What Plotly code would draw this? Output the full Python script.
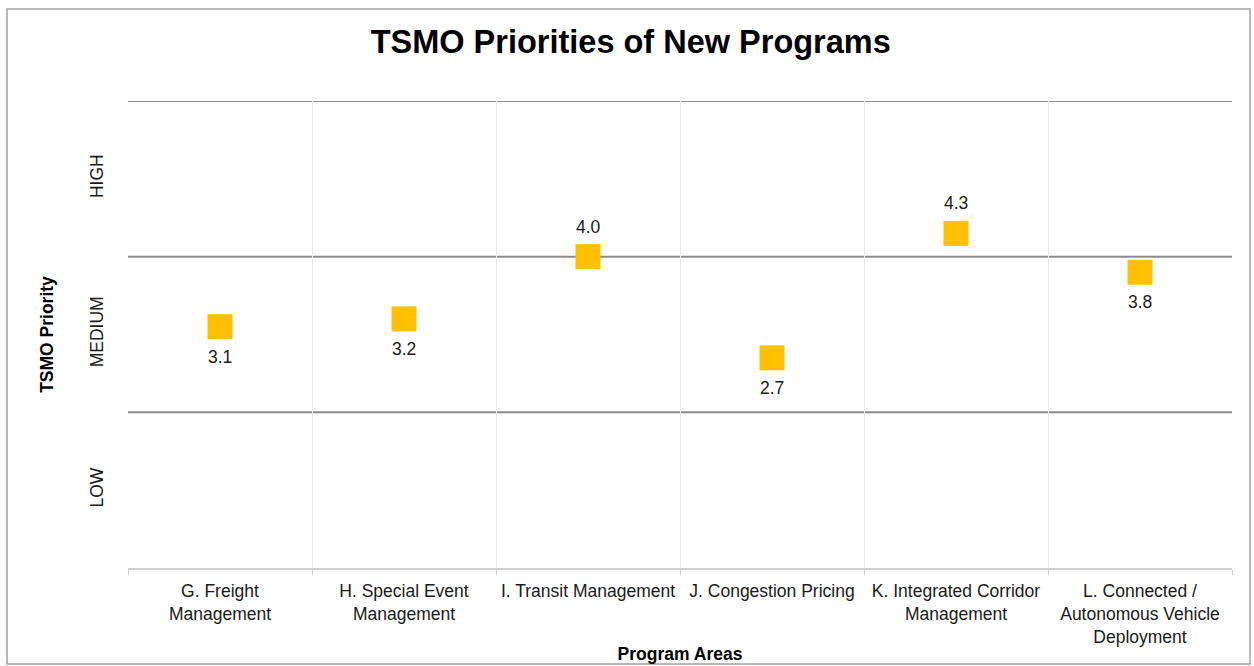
import plotly.graph_objects as go

# Datos
programas = [
    "G. Freight<br>Management",
    "H. Special Event<br>Management",
    "I. Transit Management",
    "J. Congestion Pricing",
    "K. Integrated Corridor<br>Management",
    "L. Connected /<br>Autonomous Vehicle<br>Deployment",
]
prioridad = [3.1, 3.2, 4.0, 2.7, 4.3, 3.8]
etiqueta_arriba = [False, False, True, False, True, False]

niveles = ["LOW", "MEDIUM", "HIGH"]
niveles_pos = [1, 3, 5]
limites = [2, 4, 6]

fuente = "Liberation Sans, Arial, sans-serif"

fig = go.Figure()

fig.add_trace(go.Scatter(
    x=programas, y=prioridad,
    mode="markers",
    marker=dict(symbol="square", size=25, color="#FFC000"),
    showlegend=False,
    cliponaxis=False,
))

# Etiquetas de datos
for cat, val, arriba in zip(programas, prioridad, etiqueta_arriba):
    fig.add_annotation(x=cat, y=val, text=f"{val:.1f}", showarrow=False,
                       yshift=30 if arriba else -30,
                       font=dict(size=17.5, color="#1a1a1a", family=fuente))

for y in limites:
    fig.add_hline(y=y, line_color="#8c8c8c", line_width=2, layer="below")

# Marco exterior
fig.add_shape(type="rect", xref="paper", yref="paper",
              x0=-0.1096, x1=1.0163, y0=-0.2056, y1=1.197,
              line=dict(color="#a0a0a0", width=1.5))

fig.update_layout(
    width=1254, height=666,
    margin=dict(l=128, r=22, t=101, b=98),
    paper_bgcolor="white", plot_bgcolor="white",
    font=dict(family=fuente, size=17.5, color="#1a1a1a"),
    title=dict(text="<b>TSMO Priorities of New Programs</b>",
               x=0.503, xanchor="center", xref="container",
               y=0.937, yanchor="middle",
               font=dict(size=32.5, color="black", family=fuente)),
    xaxis=dict(
        title=dict(text="<b>Program Areas</b>", standoff=2,
                   font=dict(size=17.5, color="black")),
        automargin=False,
        tickson="boundaries", showgrid=True, gridcolor="#ebebeb", gridwidth=1,
        showline=True, linecolor="#d0d0d0", linewidth=2,
        ticks="outside", ticklen=5, tickcolor="#d0d0d0",
        ticklabelstandoff=6,
        tickfont=dict(size=17.5, color="#1a1a1a"),
        range=[-0.5, 5.5],
    ),
    yaxis=dict(
        title=dict(text="<b>TSMO Priority</b>", standoff=28,
                   font=dict(size=17.5, color="black")),
        automargin=False,
        range=[0, 6], tickvals=niveles_pos, ticktext=niveles,
        tickangle=-90, showgrid=False, zeroline=False, showline=False,
        ticklabelstandoff=21,
        tickfont=dict(size=17.5, color="#1a1a1a"),
    ),
)

fig.write_html("out.html", config={"displayModeBar": False},
               post_script="document.body.style.margin='0';")
